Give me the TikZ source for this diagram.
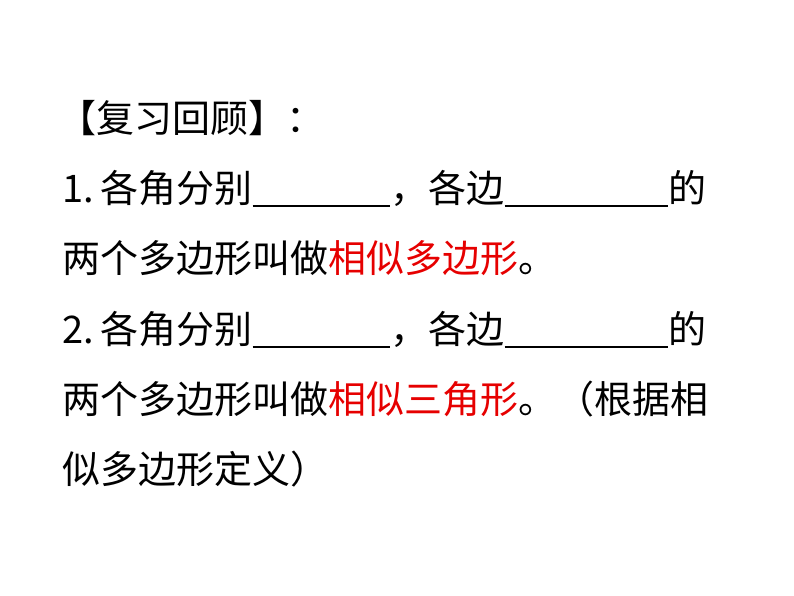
\documentclass[tikz,border=0pt]{standalone}
\usepackage{fontspec}
\setmainfont{Noto Sans CJK SC}
\definecolor{keyred}{RGB}{230,0,0}
\begin{document}
\begin{tikzpicture}[x=0.75pt,y=-0.75pt]
\tikzset{line/.style={anchor=base west,inner sep=0pt,font=\fontsize{28.5}{30}\selectfont},
         blank/.style={line width=1.2pt}}
\useasboundingbox (0,0) rectangle (794,596);

%heading
\node[line] (head) at (58,132) {【复习回顾】：};

%first statement
\node[line] (angA) at (62,202) {1.\,各角分别};
\node[line] (sideA) at (390,202) {，各边};
\node[line] (endA) at (668,202) {的};
\node[line] (defA) at (62,272) {两个多边形叫做\textcolor{keyred}{相似多边形}。};

%second statement
\node[line] (angB) at (62,343) {2.\,各角分别};
\node[line] (sideB) at (390,343) {，各边};
\node[line] (endB) at (668,343) {的};
\node[line] (defB) at (62,413) {两个多边形叫做\textcolor{keyred}{相似三角形}。（根据相};
\node[line] (restB) at (62,483) {似多边形定义）};

% blanks
\draw[blank] ([yshift=-3pt]angA.base east) -- ([yshift=-3pt]sideA.base west);
\draw[blank] ([yshift=-3pt]sideA.base east) -- ([yshift=-3pt]endA.base west);
\draw[blank] ([yshift=-3pt]angB.base east) -- ([yshift=-3pt]sideB.base west);
\draw[blank] ([yshift=-3pt]sideB.base east) -- ([yshift=-3pt]endB.base west);
\end{tikzpicture}
\end{document}
